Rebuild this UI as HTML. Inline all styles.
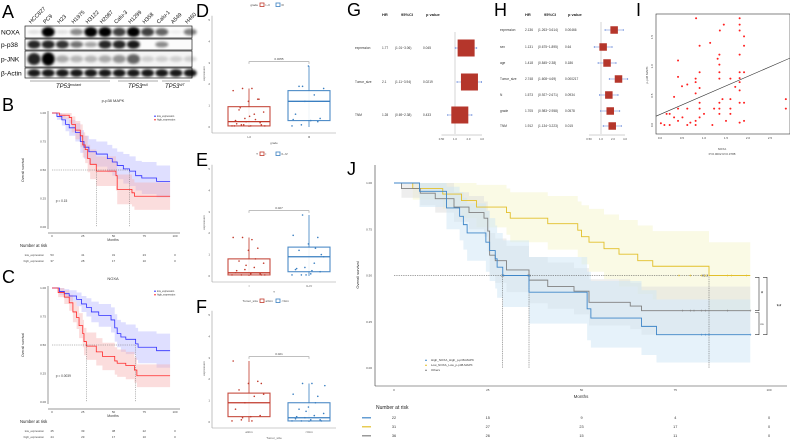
<!DOCTYPE html>
<html><head><meta charset="utf-8">
<style>
html,body{margin:0;padding:0;background:#fff;}
svg{display:block;font-family:"Liberation Sans",sans-serif;}
.pl{font-size:18px;fill:#000;}
</style></head>
<body>
<svg id="fig" width="790" height="442" viewBox="0 0 790 442" xmlns="http://www.w3.org/2000/svg">
<defs><filter id="blur" x="-50%" y="-50%" width="200%" height="200%"><feGaussianBlur stdDeviation="1.2"/></filter></defs>
<rect width="790" height="442" fill="#fff"/>
<text class="pl" x="2" y="18">A</text>
<text class="pl" x="2" y="111">B</text>
<text class="pl" x="2" y="283">C</text>
<text class="pl" x="196" y="17">D</text>
<text class="pl" x="196" y="166">E</text>
<text class="pl" x="196" y="313">F</text>
<text class="pl" x="347" y="16">G</text>
<text class="pl" x="494" y="16">H</text>
<text class="pl" x="636" y="16">I</text>
<text class="pl" x="347" y="175">J</text>
<g id="blot"></g>
<g id="pb"></g>
<g id="pc"></g>
<g id="pd"></g>
<g id="pe"></g>
<g id="pf"></g>
<g id="pg"></g>
<g id="ph"></g>
<g id="pi"></g>
<g id="pj"></g>
</svg>
<script>
// ---------- DATA ----------
const lanes = ["HCC827","PC9","H23","H1975","H3122","H2087","Calu-3","H1299","H358","Calu-1","A549","H460"];
const blotRows = ["NOXA","p-p38","p-JNK","β-Actin"];
const noxaBand = [0.1,1,0.1,0.45,1,1,0.75,1,0.75,0.6,0.05,0.5];
const p38Band = [0.85,0.85,0.8,0.55,0.35,0.85,0.85,0.9,0,0.45,0,0];
const jnkBand = [0.85,1,0.3,0.25,0.25,0.3,0.4,0.6,0.15,0.15,0.15,0.15];
const actinBand = [0.9,0.9,0.9,0.9,0.9,0.9,0.9,0.9,0.9,0.9,0.9,0.9];

const bTicks = [0,25,50,75,100];
const survTicks = [0,0.25,0.5,0.75,1];
const bLowT = [0,4,8,11,14,19,23,26,30,36,45,49,53,58,63,68,73,85];
const bLowS = [1,0.97,0.94,0.9,0.87,0.83,0.75,0.7,0.66,0.64,0.6,0.57,0.54,0.51,0.49,0.45,0.43,0.4];
const bLowW = [0,0.03,0.05,0.06,0.07,0.08,0.1,0.1,0.11,0.11,0.12,0.12,0.12,0.13,0.13,0.13,0.14,0.14];
const bHighT = [0,6,14,16,19,23,25,27,29,31,36,52,53,65,67];
const bHighS = [1,0.98,0.96,0.9,0.85,0.8,0.72,0.68,0.6,0.55,0.49,0.45,0.33,0.3,0.27];
const bHighW = [0,0.03,0.05,0.07,0.08,0.1,0.11,0.12,0.12,0.13,0.13,0.13,0.13,0.12,0.12];
const bRiskLow = [53,41,31,23,0];
const bRiskHigh = [37,28,17,10,0];
const cLowT = [0,6,10,14,20,24,28,32,38,48,51,53,56,60,68,70,85];
const cLowS = [1,0.97,0.95,0.93,0.9,0.86,0.83,0.79,0.76,0.72,0.65,0.6,0.57,0.55,0.51,0.48,0.45];
const cLowW = [0,0.03,0.04,0.05,0.06,0.07,0.08,0.09,0.1,0.11,0.12,0.12,0.13,0.13,0.14,0.14,0.15];
const cHighT = [0,5,10,14,17,20,22,25,26,28,36,41,51,53,60,67,69];
const cHighS = [1,0.96,0.92,0.87,0.79,0.74,0.67,0.6,0.53,0.49,0.44,0.4,0.36,0.34,0.32,0.28,0.23];
const cHighW = [0,0.04,0.06,0.07,0.09,0.1,0.11,0.12,0.12,0.12,0.12,0.12,0.12,0.12,0.12,0.11,0.1];
const cRiskLow = [45,39,38,22,0];
const cRiskHigh = [44,29,17,10,0];

const boxGroupsD = ["I~II","III"];
const boxStatsD = [[0,0.05,0.25,0.95,1.8],[0,0.3,1.2,1.7,2.85]];
const boxPtsD1 = [0.05,0.1,0.05,0.2,0.3,0.4,0.6,0.7,0.8,1.2,1.3,1.7,1.8,1.8,0.1,0.15,0.25,0.35,0.05,0.9,0.5,1.3,0.05,0.1];
const boxPtsD2 = [0.05,0.1,0.3,0.4,0.6,1.2,1.5,1.8,1.9,2.85,0.25,0.35,1.9];
const boxGroupsE = ["I","II~IV"];
const boxStatsE = [[0,0.05,0.15,0.8,1.8],[0,0.2,0.9,1.35,2.85]];
const boxPtsE1 = [0.05,0.05,0.1,0.1,0.15,0.3,0.4,0.6,0.7,1.2,1.3,1.8,1.8,1.7,0.05,0.25,0.5,0.8,0.05];
const boxPtsE2 = [0.05,0.05,0.1,0.2,0.3,0.4,0.6,0.9,1.2,1.5,1.8,1.9,2.85,0.25,1.0,0.35,0.05,1.3];
const boxGroupsF = ["≥3cm","<3cm"];
const boxStatsF = [[0,0.25,0.9,1.35,2.85],[0,0.05,0.2,0.9,1.8]];
const boxPtsF1 = [0.05,0.1,0.25,0.3,0.6,0.9,1.2,1.3,1.5,1.8,1.9,2.85,0.2,0.05,1.8];
const boxPtsF2 = [0.05,0.05,0.1,0.1,0.15,0.2,0.3,0.4,0.6,0.7,1.2,1.3,1.8,1.8,0.05,0.25,0.5,0.9,1.7];
const boxPvals = ["0.0055","0.027","0.021"];

const gVars = ["expression","Tumor_size","TNM"];
const gHR = [1.77,2.1,1.28];
const gLo = [1.01,1.11,0.69];
const gHi = [3.06,3.94,2.38];
const gCI = ["(1.01~3.06)","(1.11~3.94)","(0.69~2.38)"];
const gP = ["0.045","0.0219","0.433"];
const forestTicks = [0.5,1,2,4];
const forestTickLabels = ["0.50","1.0","2.0","4.0"];
const hVars = ["expression","sex","age","Tumor_size","N","grade","TNM"];
const hHR = [2.136,1.131,1.418,2.748,1.573,1.705,1.912];
const hLo = [1.263,0.675,0.845,1.608,0.927,0.983,1.134];
const hHi = [3.614,1.895,2.38,4.69,2.671,2.958,3.223];
const hCI = ["(1.263~3.614)","(0.675~1.895)","(0.845~2.38)","(1.608~4.69)","(0.927~2.671)","(0.983~2.958)","(1.134~3.223)"];
const hP = ["0.00466","0.64","0.186","0.000217","0.0934","0.0578","0.015"];

const iX = [0.82,1.45,1.36,1.81,1.81,1.81,1.91,1.91,0.9,1.14,1.35,1.81,0.41,1.31,1.35,0.9,1.35,1.81,1.91,0.41,0.81,0.81,1.35,1.6,1.81,1.81,0.62,0.5,0.9,1.71,1.81,0.81,0.32,2.86,2.86,0.41,0.62,0.9,0.9,1.23,1.35,1.42,1.6,1.35,1.6,1.81,1.91,0.22,0.15,0.32,0.41,0.51,0.69,0.81,0.81,0.9,1.19,1.35,1.5,1.81,1.91,0.02,0.1,0.22,0.62,1.0,1.6];
const iY = [1.82,1.71,1.61,1.82,1.71,1.61,1.51,1.35,1.35,1.4,1.2,1.2,1.1,1.13,1.03,0.9,0.9,0.9,0.9,0.82,0.79,0.73,0.79,0.79,0.8,0.73,0.69,0.66,0.63,0.65,0.59,0.54,0.48,0.44,0.28,0.28,0.28,0.38,0.28,0.28,0.38,0.44,0.44,0.28,0.28,0.38,0.38,0.19,0.19,0.13,0.07,0.13,0.04,0.07,0,0.13,0,0.19,0.07,0.04,0.07,0.03,0,0,0,0.19,0.19];
const iXTicks = [0,0.5,1,1.5,2,2.5];
const iYTicks = [0,0.5,1,1.5];
const iFit = [0.18,0.325]; // intercept, slope

const jTicks = [0,25,50,75,100];
const jBlueT = [0,6.8,14,17.5,18.5,19.5,24.5,25.5,27,27.5,29,36,51.5,52.5,66,70];
const jBlueS = [1,0.955,0.865,0.82,0.775,0.73,0.68,0.635,0.59,0.545,0.5,0.41,0.32,0.27,0.225,0.18];
const jBlueLo = [1,0.87,0.75,0.69,0.64,0.58,0.52,0.47,0.43,0.38,0.33,0.24,0.15,0.11,0.07,0.03];
const jBlueHi = [1,1,0.98,0.95,0.92,0.89,0.85,0.81,0.77,0.73,0.69,0.6,0.52,0.47,0.42,0.37];
const jYelT = [0,5,13,18,22,30,31,41,49,50,52,56,60,65,69,84];
const jYelS = [1,0.97,0.94,0.905,0.87,0.84,0.81,0.78,0.745,0.71,0.68,0.645,0.615,0.58,0.55,0.5];
const jYelLo = [1,0.91,0.86,0.81,0.76,0.72,0.68,0.64,0.6,0.56,0.52,0.48,0.44,0.4,0.37,0.31];
const jYelHi = [1,1,1,1,0.99,0.97,0.95,0.93,0.9,0.88,0.86,0.83,0.8,0.77,0.74,0.68];
const jGreyT = [0,2,7,11,16,20,24,25,25.5,27,30,36,41,48,52,63,66];
const jGreyS = [1,0.97,0.945,0.915,0.87,0.84,0.81,0.74,0.61,0.58,0.53,0.475,0.44,0.415,0.355,0.335,0.31];
const jGreyLo = [1,0.92,0.88,0.84,0.79,0.75,0.71,0.63,0.5,0.46,0.41,0.35,0.32,0.29,0.23,0.21,0.18];
const jGreyHi = [1,1,1,1,0.95,0.93,0.9,0.85,0.73,0.7,0.66,0.6,0.57,0.54,0.48,0.46,0.44];
const jYelCens = [76,79,82,83,89,90,94];
const jGreyCens = [77,79,80,82,83,89,95];
const jBlueCens = [82,83,84,95];
const jRiskBlue = [22,15,9,4,0];
const jRiskYel = [31,27,23,17,0];
const jRiskGrey = [36,26,15,11,0];
const jMedians = [29,36,84];
const jMedianLabels = ["29","36","82.2"];

// ---------- HELPERS ----------
const NS = "http://www.w3.org/2000/svg";
function el(parent, tag, attrs, txt){
  const e = document.createElementNS(NS, tag);
  for (const k in attrs) e.setAttribute(k, attrs[k]);
  if (txt !== undefined) e.textContent = txt;
  parent.appendChild(e);
  return e;
}
function lin(d0,d1,r0,r1){ return v => r0 + (v-d0)*(r1-r0)/(d1-d0); }
function stepPath(t, s, tend, X, Y){
  let d = "M" + X(t[0]) + " " + Y(s[0]);
  for (let i=1;i<t.length;i++){ d += " H" + X(t[i]) + " V" + Y(s[i]); }
  d += " H" + X(tend);
  return d;
}
function bandPath(t, lo, hi, tend, X, Y){
  let up = [], dn = [];
  for (let i=0;i<t.length;i++){
    const x0 = X(t[i]), x1 = X(i+1<t.length ? t[i+1] : tend);
    up.push([x0,Y(hi[i])],[x1,Y(hi[i])]);
    dn.push([x0,Y(lo[i])],[x1,Y(lo[i])]);
  }
  const pts = up.concat(dn.reverse());
  return "M" + pts.map(p=>p[0].toFixed(2)+" "+p[1].toFixed(2)).join(" L") + " Z";
}
function clampArr(a){ return a.map(v=>Math.max(0,Math.min(1,v))); }

// ---------- A: Western blot ----------
(function(){
  const g = document.getElementById("blot");
  const laneX = i => 34 + i*14.2;
  const rowsY = [[26,38],[39,50],[51,67],[68,78]];
  const rowData = [noxaBand,p38Band,jnkBand,actinBand];
  lanes.forEach((n,i)=>{
    const t = el(g,"text",{x:laneX(i)-3,y:24,"font-size":"5.5px",transform:`rotate(-45 ${laneX(i)-3} 24)`,fill:"#111"},n);
    
    
  });
  rowsY.forEach((r,ri)=>{
    const box = el(g,"rect",{x:25,y:r[0],width:167,height:r[1]-r[0],fill:ri==2?"#f4f4f4":"#fbfbfb",stroke:"#222","stroke-width":0.7});
    
    
    const lab = el(g,"text",{x:1,y:(r[0]+r[1])/2+2.3,"font-size":"6.6px",fill:"#000"},blotRows[ri]);
    
    
    rowData[ri].forEach((v,i)=>{
      if (v<=0) return;
      const cy=(r[0]+r[1])/2, h=(r[1]-r[0]);
      const b = el(g,"ellipse",{cx:laneX(i),cy:cy,rx:6.5,ry:Math.max(1.2,h*0.28*(0.5+v)),fill:"#000",opacity:Math.min(1,v),filter:"url(#blur)"});
      
      
    });
  });
  [["TP53",56,"mutant"],["TP53",128,"null"],["TP53",165,"WT"]].forEach(a=>{
    const t = el(g,"text",{x:a[1],y:88,"font-size":"6px","font-style":"italic",fill:"#111"});
    
    
    t.textContent=a[0];
    el(t,"tspan",{"font-size":"3.5px",dy:-2},a[2]);
  });
  [[30,110],[118,158],[162,190]].forEach(a=>{
    const l = el(g,"line",{x1:a[0],x2:a[1],y1:81,y2:81,stroke:"#555","stroke-width":0.5});
    
    
  });
})();

// ---------- B/C: KM ----------
function drawKM(g, cfg){
  const X = lin(0,100,52,175), Y = lin(0,1,cfg.y0,cfg.y1);
  const t = el(g,"text",{x:113,y:cfg.title_y,"font-size":"4px","text-anchor":"middle",fill:"#333"},cfg.title);
   
  el(g,"line",{x1:48,x2:48,y1:Y(1)-2,y2:Y(0)+2,stroke:"#333","stroke-width":0.5});
  el(g,"line",{x1:48,x2:180,y1:cfg.axis_y,y2:cfg.axis_y,stroke:"#333","stroke-width":0.5});
  survTicks.forEach(v=>{
    const tk = el(g,"text",{x:46,y:Y(v)+1,"font-size":"3px","text-anchor":"end",fill:"#444"},v.toFixed(2));
     
  });
  bTicks.forEach(v=>{
    const tk = el(g,"text",{x:X(v),y:cfg.axis_y+4,"font-size":"3px","text-anchor":"middle",fill:"#444"},v);
     
  });
  const yt = el(g,"text",{x:0,y:0,"font-size":"3.5px","text-anchor":"middle",fill:"#333",transform:`translate(24 ${(Y(0)+Y(1))/2}) rotate(-90)`},"Overall survival");
   
  const xt = el(g,"text",{x:113,y:cfg.axis_y+8,"font-size":"3.5px","text-anchor":"middle",fill:"#333"},"Months");
   
  const series = [
    {t:cfg.lowT,s:cfg.lowS,w:cfg.lowW,c:"#3030ff",f:"#b8b8ff"},
    {t:cfg.highT,s:cfg.highS,w:cfg.highW,c:"#ff2a2a",f:"#f6b4b4"}];
  series.forEach(se=>{
    const lo = clampArr(se.s.map((v,i)=>v-se.w[i])), hi = clampArr(se.s.map((v,i)=>v+se.w[i]));
    const b = el(g,"path",{d:bandPath(se.t,lo,hi,96,X,Y),fill:se.f,opacity:0.45});
     
  });
  series.forEach(se=>{
    const p = el(g,"path",{d:stepPath(se.t,se.s,96,X,Y),fill:"none",stroke:se.c,"stroke-width":0.8});
     
  });
  el(g,"path",{d:`M${X(0)} ${Y(0.5)} H${X(cfg.med[1])} M${X(cfg.med[0])} ${Y(0.5)} V${Y(0)} M${X(cfg.med[1])} ${Y(0.5)} V${Y(0)}`,stroke:"#555","stroke-width":0.4,"stroke-dasharray":"1.2 1",fill:"none"});
  const pv = el(g,"text",{x:X(3),y:Y(0.22),"font-size":"3.2px",fill:"#333"},cfg.p);
   
  [["low_expression","#3030ff",0],["high_expression","#ff2a2a",1]].forEach(l=>{
    const ly = Y(1)+4+l[2]*3.5;
    el(g,"circle",{cx:155,cy:ly-0.8,r:0.8,fill:l[1]});
    const lt = el(g,"text",{x:157,y:ly,"font-size":"2.5px",fill:"#333"},l[0]);
     
  });
  const nr = el(g,"text",{x:20,y:cfg.risk_y,"font-size":"4.2px",fill:"#222"},"Number at risk");
   
  [["low_expression",cfg.riskLow],["high_expression",cfg.riskHigh]].forEach((r,ri)=>{
    const ry = cfg.risk_y+ 9 + ri*6;
    el(g,"text",{x:44,y:ry,"font-size":"2.8px","text-anchor":"end",fill:"#444"},r[0]);
    r[1].forEach((v,i)=>{
      const c = el(g,"text",{x:X(bTicks[i]),y:ry,"font-size":"3px","text-anchor":"middle",fill:"#444"},v);
       
    });
  });
}
drawKM(document.getElementById("pb"),{title:"p-p38 MAPK",title_y:102,y0:227,y1:113,axis_y:233,risk_y:247,
  lowT:bLowT,lowS:bLowS,lowW:bLowW,highT:bHighT,highS:bHighS,highW:bHighW,med:[36,63],p:"p = 0.15",riskLow:bRiskLow,riskHigh:bRiskHigh});
drawKM(document.getElementById("pc"),{title:"NOXA",title_y:280,y0:402,y1:288,axis_y:409,risk_y:423,
  lowT:cLowT,lowS:cLowS,lowW:cLowW,highT:cHighT,highS:cHighS,highW:cHighW,med:[28,68],p:"p = 0.0039",riskLow:cRiskLow,riskHigh:cRiskHigh});

// ---------- D/E/F: boxplots ----------
function drawBox(g, cfg){
  const Y = v => cfg.y0 - v*21.4;
  const cols = ["#c0392b","#3a7fc1"];
  const centers = [249,309];
  el(g,"line",{x1:212,x2:212,y1:Y(5.2),y2:cfg.y0+6,stroke:"#999","stroke-width":0.6});
  el(g,"line",{x1:212,x2:336,y1:cfg.y0+6,y2:cfg.y0+6,stroke:"#999","stroke-width":0.6});
  [0,1,2,3,4,5].forEach(v=>{
    const t = el(g,"text",{x:210,y:Y(v)+1,"font-size":"3px","text-anchor":"end",fill:"#555"},v);
     
  });
  const yt = el(g,"text",{x:0,y:0,"font-size":"3px","text-anchor":"middle",fill:"#555",transform:`translate(205 ${Y(2.5)}) rotate(-90)`},"expression");
   
  const xt = el(g,"text",{x:274,y:cfg.y0+17,"font-size":"3px","text-anchor":"middle",fill:"#555"},cfg.xtitle);
   
  const lg = el(g,"text",{x:258,y:cfg.leg_y,"font-size":"3px","text-anchor":"end",fill:"#444"},cfg.xtitle);
   
  cfg.groups.forEach((gn,i)=>{
    const lx = 260 + i*16;
    el(g,"rect",{x:lx,y:cfg.leg_y-3,width:4,height:3.5,fill:"none",stroke:cols[i],"stroke-width":0.8});
    const t = el(g,"text",{x:lx+5.5,y:cfg.leg_y,"font-size":"3px",fill:"#444"},gn);
     
  });
  cfg.groups.forEach((gn,i)=>{
    const s = cfg.stats[i], cx = centers[i], c = cols[i];
    const gl = el(g,"text",{x:cx,y:cfg.y0+11,"font-size":"3px","text-anchor":"middle",fill:"#555"},gn);
     
    el(g,"line",{x1:cx,x2:cx,y1:Y(s[0]),y2:Y(s[4]),stroke:c,"stroke-width":1,opacity:0.8});
    const b = el(g,"rect",{x:cx-21,y:Y(s[3]),width:42,height:Y(s[1])-Y(s[3]),fill:"#fff",stroke:c,"stroke-width":1.1,opacity:0.9});
     
    el(g,"line",{x1:cx-21,x2:cx+21,y1:Y(s[2]),y2:Y(s[2]),stroke:c,"stroke-width":1.3});
    cfg.pts[i].forEach((v,k)=>{
      const jx = cx + (((k*37)%29)/29 - 0.5)*34;
      const p = el(g,"circle",{cx:jx,cy:Y(v),r:0.8,fill:c});
       
    });
  });
  el(g,"path",{d:`M${centers[0]} ${Y(2.95)} V${Y(3.05)} H${centers[1]} V${Y(2.95)}`,fill:"none",stroke:"#999","stroke-width":0.6});
  const pv = el(g,"text",{x:(centers[0]+centers[1])/2,y:Y(3.05)-1.5,"font-size":"3px","text-anchor":"middle",fill:"#444"},cfg.p);
   
}
drawBox(document.getElementById("pd"),{y0:127,leg_y:6,xtitle:"grade",groups:boxGroupsD,stats:boxStatsD,pts:[boxPtsD1,boxPtsD2],p:boxPvals[0]});
drawBox(document.getElementById("pe"),{y0:276,leg_y:155,xtitle:"T",groups:boxGroupsE,stats:boxStatsE,pts:[boxPtsE1,boxPtsE2],p:boxPvals[1]});
drawBox(document.getElementById("pf"),{y0:422,leg_y:302,xtitle:"Tumor_size",groups:boxGroupsF,stats:boxStatsF,pts:[boxPtsF1,boxPtsF2],p:boxPvals[2]});

// ---------- G/H: forest ----------
function drawForest(g, cfg){
  const X = v => cfg.x1 + Math.log2(v)*cfg.k;
  [["HR",cfg.hx],["95%CI",cfg.cx+6],["p value",cfg.px+3]].forEach(h=>{
    const t = el(g,"text",{x:h[1],y:16,"font-size":"4px","font-weight":"bold",fill:"#222"},h[0]);
     
  });
  el(g,"line",{x1:cfg.x1,x2:cfg.x1,y1:cfg.ytop,y2:134,stroke:"#bbb","stroke-width":0.6});
  el(g,"line",{x1:X(0.5),x2:X(4),y1:135,y2:135,stroke:"#888","stroke-width":0.4});
  forestTicks.forEach((v,i)=>{
    const t = el(g,"text",{x:X(v),y:140,"font-size":"2.8px","text-anchor":"middle",fill:"#444"},forestTickLabels[i]);
     
  });
  cfg.vars.forEach((v,i)=>{
    const y = cfg.rows[i];
    [[cfg.lx,v],[cfg.hx,String(cfg.hr[i])],[cfg.cx,cfg.ci[i]],[cfg.px,cfg.p[i]]].forEach(c=>{
      const t = el(g,"text",{x:c[0],y:y+1,"font-size":"3.2px",fill:"#333"},c[1]);
       
    });
    el(g,"path",{d:`M${X(cfg.lo[i])} ${y-1} V${y+1} M${X(cfg.lo[i])} ${y} H${X(cfg.hi[i])} M${X(cfg.hi[i])} ${y-1} V${y+1}`,stroke:"#5b7fd6","stroke-width":0.6,fill:"none"});
    const s = el(g,"rect",{x:X(cfg.hr[i])-cfg.sz/2,y:y-cfg.sz/2,width:cfg.sz,height:cfg.sz,fill:"#b5362b"});
     
  });
}
drawForest(document.getElementById("pg"),{vars:gVars,hr:gHR,lo:gLo,hi:gHi,ci:gCI,p:gP,rows:[48,82,115],x1:455,k:13.5,ytop:32,lx:355,hx:382,cx:395,px:423,sz:17});
drawForest(document.getElementById("ph"),{vars:hVars,hr:hHR,lo:hLo,hi:hHi,ci:hCI,p:hP,rows:[30,47,63,79,95,111,126],x1:601,k:12,ytop:22,lx:500,hx:525,cx:538,px:565,sz:7.5});

// ---------- I: scatter ----------
(function(){
  const g = document.getElementById("pi");
  const X = lin(0,2.5,660,770), Y = lin(0,1.5,125,37);
  el(g,"rect",{x:656,y:14,width:134,height:120,fill:"none",stroke:"#333","stroke-width":0.6});
  iXTicks.forEach(v=>{ const t=el(g,"text",{x:X(v),y:139,"font-size":"3px","text-anchor":"middle",fill:"#444"},v.toFixed(1));
      });
  iYTicks.forEach(v=>{ const t=el(g,"text",{x:0,y:0,"font-size":"3px","text-anchor":"middle",fill:"#444",transform:`translate(653 ${Y(v)}) rotate(-90)`},v.toFixed(1));
      });
  const yt=el(g,"text",{x:0,y:0,"font-size":"3px","text-anchor":"middle",fill:"#444",transform:`translate(648 75) rotate(-90)`},"p-p38 MAPK");
   
  const xt=el(g,"text",{x:722,y:150,"font-size":"3px","text-anchor":"middle",fill:"#444"},"NOXA");
   
  const st=el(g,"text",{x:722,y:155,"font-size":"3px","text-anchor":"middle",fill:"#444"},"P=0.0002  R=0.3788");
   
  const xa = (656-660)/44, xb = (790-660)/44;
  const ln = el(g,"line",{x1:656,y1:Y(iFit[0]+iFit[1]*xa),x2:790,y2:Y(iFit[0]+iFit[1]*xb),stroke:"#333","stroke-width":0.6});
   
  iX.forEach((x,i)=>{
    const p = el(g,"circle",{cx:X(x),cy:Y(iY[i]),r:1,fill:"#ff2020"});
     
  });
})();

// ---------- J: combined KM ----------
(function(){
  const g = document.getElementById("pj");
  const X = lin(0,100,394,769), Y = lin(0,1,368,183);
  el(g,"line",{x1:375,x2:375,y1:165,y2:386,stroke:"#333","stroke-width":0.6});
  el(g,"line",{x1:375,x2:787,y1:386,y2:386,stroke:"#333","stroke-width":0.6});
  survTicks.forEach(v=>{ const t=el(g,"text",{x:372,y:Y(v)+1,"font-size":"3px","text-anchor":"end",fill:"#444"},v.toFixed(2));
      });
  jTicks.forEach(v=>{ const t=el(g,"text",{x:X(v),y:391,"font-size":"3px","text-anchor":"middle",fill:"#444"},v);
      });
  const yt=el(g,"text",{x:0,y:0,"font-size":"4px","text-anchor":"middle",fill:"#333",transform:`translate(359 275) rotate(-90)`},"Overall survival");
   
  const xt=el(g,"text",{x:581,y:398,"font-size":"4.5px","text-anchor":"middle",fill:"#333"},"Months");
   
  const ser = [
    {t:jYelT,s:jYelS,lo:jYelLo,hi:jYelHi,c:"#e2bf2a",f:"#f5f5cc",cens:jYelCens,name:"Low_NOXA_Low_p-p38-MAPK"},
    {t:jGreyT,s:jGreyS,lo:jGreyLo,hi:jGreyHi,c:"#808080",f:"#dedede",cens:jGreyCens,name:"Others"},
    {t:jBlueT,s:jBlueS,lo:jBlueLo,hi:jBlueHi,c:"#3f86c8",f:"#cde6f5",cens:jBlueCens,name:"High_NOXA_High_p-p38-MAPK"}];
  ser.forEach(s=>{ const b=el(g,"path",{d:bandPath(s.t,s.lo,s.hi,95,X,Y),fill:s.f,opacity:0.5});
      });
  el(g,"path",{d:`M${X(0)} ${Y(0.5)} H${X(jMedians[2])}`,stroke:"#444","stroke-width":0.5,"stroke-dasharray":"1.3 1",fill:"none"});
  jMedians.forEach((m,i)=>{
    el(g,"line",{x1:X(m),x2:X(m),y1:Y(0.5),y2:Y(0),stroke:"#444","stroke-width":0.5,"stroke-dasharray":"1 0.8"});
    const t=el(g,"text",{x:X(m)-(i==2?1:0),y:Y(0.5)+1,"font-size":"3px","text-anchor":i==2?"end":"middle",fill:"#333"},jMedianLabels[i]);
     
  });
  ser.forEach(s=>{
    const p=el(g,"path",{d:stepPath(s.t,s.s,95,X,Y),fill:"none",stroke:s.c,"stroke-width":0.9});
     
    const last = s.s[s.s.length-1];
    s.cens.forEach(m=>{
      const cm=el(g,"path",{d:`M${X(m)-1} ${Y(last)} h2 M${X(m)} ${Y(last)-1} v2`,stroke:s.c,"stroke-width":0.5});
       
    });
  });
  el(g,"path",{d:`M755 ${Y(0.49)} H759 V${Y(0.31)} H755 M755 ${Y(0.30)} H759 V${Y(0.18)} H755 M763 ${Y(0.49)} H767 V${Y(0.18)} H763`,fill:"none",stroke:"#333","stroke-width":0.6});
  [[762,Y(0.4),"*"],[762,Y(0.24),"ns"],[779,Y(0.33),"**"]].forEach(a=>{
    const t=el(g,"text",{x:a[0],y:a[1]+1.5,"font-size":a[2]=="ns"?"3px":"6px","text-anchor":"middle",fill:"#222"},a[2]);
     
  });
  [ser[2],ser[0],ser[1]].forEach((s,i)=>{
    const ly = 361 + i*5;
    el(g,"path",{d:`M425 ${ly} l1 -2 l1 2 Z`,fill:s.c});
    const t=el(g,"text",{x:431,y:ly,"font-size":"3px",fill:"#333"},s.name);
     
  });
  const nr=el(g,"text",{x:376,y:409,"font-size":"5px",fill:"#222"},"Number at risk");
   
  [[jRiskBlue,"#3f86c8"],[jRiskYel,"#e2bf2a"],[jRiskGrey,"#808080"]].forEach((r,ri)=>{
    const ry = 419 + ri*9;
    el(g,"line",{x1:362,x2:371,y1:ry-1.2,y2:ry-1.2,stroke:r[1],"stroke-width":1.2});
    r[0].forEach((v,i)=>{
      const t=el(g,"text",{x:X(jTicks[i]),y:ry,"font-size":"3.8px","text-anchor":"middle",fill:"#333"},v);
       
    });
  });
})();
</script>
</body></html>
